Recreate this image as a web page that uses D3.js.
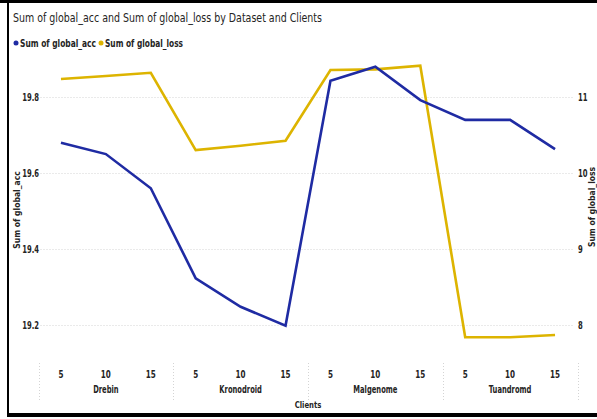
<!DOCTYPE html>
<html>
<head>
<meta charset="utf-8">
<script src="https://cdn.jsdelivr.net/npm/d3@7"></script>
<style>
  body { margin: 0; background: #fff; }
  text { font-family: "DejaVu Sans Condensed", "Liberation Sans", sans-serif; fill: #252423; }
</style>
</head>
<body>
<div id="chart"></div>
<script>
var datasets = ["Drebin", "Kronodroid", "Malgenome", "Tuandromd"];
var clients = ["5", "10", "15"];
var global_acc = [19.681, 19.651, 19.561, 19.324, 19.249, 19.199,
                  19.844, 19.881, 19.793, 19.741, 19.741, 19.664];
var global_loss = [11.243, 11.283, 11.326, 10.309, 10.366, 10.432,
                   11.362, 11.370, 11.418, 7.845, 7.845, 7.875];
var acc_ticks = [19.2, 19.4, 19.6, 19.8];
var loss_ticks = [8, 9, 10, 11];

var W = 597, H = 419;
var plotLeft = 38.5, plotRight = 577.5, plotTop = 58, plotBottom = 355;
var blue = "#1F2BA3", gold = "#DDB400";

// squeeze text horizontally, the reference uses a narrow font
function condense(sel, factor) {
  sel.each(function() {
    var len = this.getComputedTextLength();
    d3.select(this)
        .attr("textLength", len * factor)
        .attr("lengthAdjust", "spacingAndGlyphs");
  });
}

var svg = d3.select("#chart").append("svg")
    .attr("width", W)
    .attr("height", H);

// frame
svg.append("rect").attr("x", 0).attr("y", 0).attr("width", W).attr("height", 3).attr("fill", "#000");
svg.append("rect").attr("x", 7).attr("y", 0).attr("width", 2).attr("height", 417).attr("fill", "#000");
svg.append("rect").attr("x", 7).attr("y", 413).attr("width", W - 7).attr("height", 4).attr("fill", "#000");

// one point per dataset/client pair
var points = [];
datasets.forEach(function(ds, i) {
  clients.forEach(function(c, j) {
    var k = i * clients.length + j;
    points.push({ds: ds, client: c, key: ds + "|" + c, acc: global_acc[k], loss: global_loss[k]});
  });
});

var xBand = d3.scaleBand()
    .domain(datasets)
    .range([plotLeft, plotRight]);

var x = d3.scalePoint()
    .domain(points.map(function(d) { return d.key; }))
    .range([plotLeft, plotRight])
    .padding(0.5);

var yAcc = d3.scaleLinear()
    .domain([19.122, 19.904])
    .range([plotBottom, plotTop]);

var yLoss = d3.scaleLinear()
    .domain([7.612, 11.52])
    .range([plotBottom, plotTop]);

// title + legend
svg.append("text")
    .attr("x", 13)
    .attr("y", 22)
    .attr("textLength", 309)
    .attr("lengthAdjust", "spacingAndGlyphs")
    .style("font-size", "13px")
    .text("Sum of global_acc and Sum of global_loss by Dataset and Clients");

var legend = [{name: "Sum of global_acc", color: blue, x: 13, w: 76},
              {name: "Sum of global_loss", color: gold, x: 98, w: 78}];
var lg = svg.selectAll(".legend")
    .data(legend)
  .enter().append("g")
    .attr("class", "legend")
    .attr("transform", function(d) { return "translate(" + d.x + ",43)"; });
lg.append("circle").attr("cx", 3).attr("cy", 0).attr("r", 2.5).attr("fill", function(d) { return d.color; });
lg.append("text")
    .attr("x", 7)
    .attr("dy", "0.35em")
    .attr("textLength", function(d) { return d.w; })
    .attr("lengthAdjust", "spacingAndGlyphs")
    .style("font-size", "10px")
    .style("font-weight", "bold")
    .text(function(d) { return d.name; });

// gridlines
svg.append("g")
    .selectAll("line")
    .data(acc_ticks)
  .enter().append("line")
    .attr("x1", plotLeft + 2)
    .attr("x2", plotRight - 4)
    .attr("y1", function(d) { return Math.round(yAcc(d)) + 0.5; })
    .attr("y2", function(d) { return Math.round(yAcc(d)) + 0.5; })
    .attr("stroke", "#d4d4d4")
    .attr("stroke-dasharray", "1,2");

// left axis
var yAxisL = d3.axisLeft(yAcc)
    .tickValues(acc_ticks)
    .tickSize(0)
    .tickPadding(0)
    .tickFormat(d3.format(".1f"));
var gl = svg.append("g")
    .attr("transform", "translate(39,0)")
    .call(yAxisL);
gl.select(".domain").remove();
gl.selectAll("text")
    .attr("font-family", null)
    .style("font-size", "10px").style("font-weight", "bold").attr("fill", "#252423")
    .call(condense, 0.76);

svg.append("text")
    .attr("transform", "translate(17," + 210 + ") rotate(-90)")
    .attr("text-anchor", "middle")
    .attr("dy", "0.35em")
    .style("font-size", "8.5px")
    .style("font-weight", "bold")
    .text("Sum of global_acc");

// right axis
var yAxisR = d3.axisRight(yLoss)
    .tickValues(loss_ticks)
    .tickSize(0)
    .tickPadding(0)
    .tickFormat(d3.format("d"));
var gr = svg.append("g")
    .attr("transform", "translate(578,0)")
    .call(yAxisR);
gr.select(".domain").remove();
gr.selectAll("text")
    .attr("font-family", null)
    .style("font-size", "10px").style("font-weight", "bold").attr("fill", "#252423")
    .call(condense, 0.76);

svg.append("text")
    .attr("transform", "translate(592," + 207 + ") rotate(-90)")
    .attr("text-anchor", "middle")
    .attr("dy", "0.35em")
    .style("font-size", "8.5px")
    .style("font-weight", "bold")
    .text("Sum of global_loss");

// category separators
var seps = datasets.map(function(d) { return xBand(d); }).concat([plotRight]);
svg.append("g")
    .selectAll("line")
    .data(seps)
  .enter().append("line")
    .attr("x1", function(d) { return Math.round(d) + 0.5; })
    .attr("x2", function(d) { return Math.round(d) + 0.5; })
    .attr("y1", 363)
    .attr("y2", 400)
    .attr("stroke", "#d4d4d4")
    .attr("stroke-dasharray", "1,2");

// x labels
svg.append("g")
    .selectAll("text")
    .data(points)
  .enter().append("text")
    .attr("x", function(d) { return x(d.key); })
    .attr("y", 374)
    .attr("dy", "0.35em")
    .attr("text-anchor", "middle")
    .style("font-size", "10px")
    .style("font-weight", "bold")
    .text(function(d) { return d.client; })
    .call(condense, 0.8);

svg.append("g")
    .selectAll("text")
    .data(datasets)
  .enter().append("text")
    .attr("x", function(d) { return xBand(d) + xBand.bandwidth() / 2; })
    .attr("y", 389)
    .attr("dy", "0.35em")
    .attr("text-anchor", "middle")
    .style("font-size", "10px")
    .style("font-weight", "bold")
    .text(function(d) { return d; })
    .call(condense, 0.75);

svg.append("text")
    .attr("x", (plotLeft + plotRight) / 2)
    .attr("y", 405)
    .attr("dy", "0.35em")
    .attr("text-anchor", "middle")
    .style("font-size", "9px")
    .style("font-weight", "bold")
    .text("Clients")
    .call(condense, 0.85);

// lines
var accLine = d3.line()
    .x(function(d) { return x(d.key); })
    .y(function(d) { return yAcc(d.acc); });
var lossLine = d3.line()
    .x(function(d) { return x(d.key); })
    .y(function(d) { return yLoss(d.loss); });

svg.append("path")
    .datum(points)
    .attr("fill", "none")
    .attr("stroke", gold)
    .attr("stroke-width", 2.6)
    .attr("d", lossLine);

svg.append("path")
    .datum(points)
    .attr("fill", "none")
    .attr("stroke", blue)
    .attr("stroke-width", 2.6)
    .attr("d", accLine);
</script>
</body>
</html>
